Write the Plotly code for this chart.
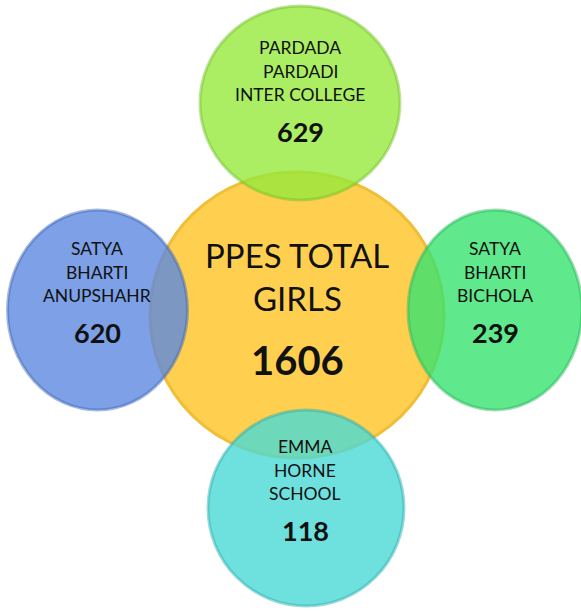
import plotly.graph_objects as go

# ---- data ----
total_label = ["PPES TOTAL", "GIRLS"]
total_girls = 1606
school_lines = [
    ["PARDADA", "PARDADI", "INTER COLLEGE"],
    ["SATYA", "BHARTI", "BICHOLA"],
    ["EMMA", "HORNE", "SCHOOL"],
    ["SATYA", "BHARTI", "ANUPSHAHR"],
]
girls = [629, 239, 118, 620]

# ---- layout (page-pixel coordinates) ----
W, H = 581, 612
center = dict(cx=297, cy=315, rx=147, ry=143)
# (cx, cy, rx, ry) for satellites: top, right, bottom, left
sat_pos = [(300, 103, 100, 97), (495, 310, 87, 100), (306, 508, 98, 98), (97.5, 310, 90, 100)]
sat_fill = ["rgba(150,232,60,0.8)", "rgba(55,226,111,0.8)",
            "rgba(74,217,214,0.8)", "rgba(92,136,224,0.8)"]
sat_line = ["rgba(110,190,40,0.45)", "rgba(40,180,90,0.45)",
            "rgba(40,170,170,0.45)", "rgba(60,100,180,0.45)"]
FONT = "Lato, 'Open Sans', sans-serif"

fig = go.Figure()
shapes = []
annotations = []

shapes.append(dict(type="circle", xref="x", yref="y",
                   x0=center["cx"] - center["rx"], x1=center["cx"] + center["rx"],
                   y0=center["cy"] - center["ry"], y1=center["cy"] + center["ry"],
                   fillcolor="rgb(255,208,80)", line=dict(color="rgba(240,190,55,1)", width=3),
                   layer="below"))

for (cx, cy, rx, ry), fc, lc in zip(sat_pos, sat_fill, sat_line):
    shapes.append(dict(type="circle", xref="x", yref="y",
                       x0=cx - rx, x1=cx + rx, y0=cy - ry, y1=cy + ry,
                       fillcolor=fc, line=dict(color=lc, width=3), layer="below"))


def add_text(x, y, text, size, bold=False):
    annotations.append(dict(x=x, y=y, xref="x", yref="y",
                            text=f"<b>{text}</b>" if bold else text,
                            showarrow=False, font=dict(family=FONT, size=size, color="#111111"),
                            xanchor="center", yanchor="middle"))


for t, y in zip(total_label, [255, 298]):
    add_text(297, y, t, 33)
add_text(297, 360, f"{total_girls}", 40, bold=True)

text_offsets = [-58, -34, -11]
value_offset = 26
text_x = [300, 495, 305, 97]
text_cy = [105, 306, 504, 306]
for lines, v, tx, tcy in zip(school_lines, girls, text_x, text_cy):
    for ln, off in zip(lines, text_offsets):
        add_text(tx, tcy + off, ln, 17.5)
    add_text(tx, tcy + value_offset, f"{v}", 27, bold=True)

fig.update_layout(
    width=W, height=H, autosize=False,
    margin=dict(l=0, r=0, t=0, b=0),
    paper_bgcolor="white", plot_bgcolor="white",
    xaxis=dict(range=[0, W], visible=False, fixedrange=True),
    yaxis=dict(range=[H, 0], visible=False, fixedrange=True),
    shapes=shapes, annotations=annotations, showlegend=False,
)
fig.add_trace(go.Scatter(x=[300], y=[300], mode="markers", marker=dict(opacity=0), hoverinfo="skip"))

fig.write_html("out.html", config={"displayModeBar": False},
               post_script="document.body.style.margin='0';document.body.style.overflow='hidden';")
